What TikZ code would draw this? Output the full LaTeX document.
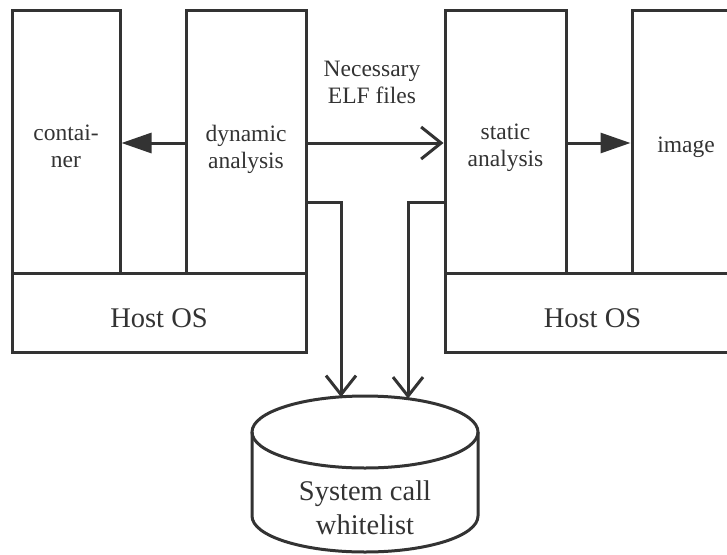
\documentclass[tikz,border=0pt]{standalone}
\usepackage{fontspec}
\setmainfont{Liberation Serif}
\newfontfamily\tnr{Liberation Serif}
\usetikzlibrary{arrows.meta}
\definecolor{ink}{HTML}{333333}
\begin{document}
\begin{tikzpicture}[x=1pt,y=-1pt,
  box/.style={draw=ink,line width=3pt,minimum height=263pt,inner sep=0pt},
  osbox/.style={draw=ink,line width=3pt,minimum height=79pt,inner sep=0pt},
  small/.style={text=ink,font=\tnr\fontsize{23.5}{27}\selectfont,align=center,inner sep=0pt},
  big/.style={text=ink,font=\tnr\fontsize{28.5}{34}\selectfont,align=center,inner sep=0pt},
  conn/.style={draw=ink,line width=3pt},
  fillhead/.style={conn,-{Triangle[length=30pt,width=20pt]}},
  openhead/.style={conn,-{Straight Barb[length=19pt,width=30pt]}}]
\useasboundingbox (0,0) rectangle (727,554);
\clip (0,0) rectangle (727,554);
% boxes
\node[box,minimum width=108pt] (cont) at (66,141.5) {};
\node[box,minimum width=120pt] (dyn) at (246,141.5) {};
\node[osbox,minimum width=294pt] (hostL) at (159,312.5) {};
\node[box,minimum width=121pt] (stat) at (505.5,141.5) {};
\node[box,minimum width=108pt] (img) at (686,141.5) {};
\node[osbox,minimum width=295pt] (hostR) at (592.5,312.5) {};
% labels
\node[small] (conttxt) at (66,146) {contai-\\ner};
\node[small] (dyntxt) at (246,149) {dynamic\\analysis};
\node[small] (stattxt) at (505.5,147.5) {static\\analysis};
\node[small] (imgtxt) at (686,147.5) {image};
\node[small] (elf) at (372,82) {Necessary\\ELF files};
\node[big] (hostLtxt) at (159,318.5) {Host OS};
\node[big] (hostRtxt) at (592.5,318.5) {Host OS};
% cylinder
\draw[ink,line width=3pt] (365,432) ellipse [x radius=113pt,y radius=36pt];
\draw[ink,line width=3pt] (252,432) -- (252,516)
  arc[start angle=180,end angle=360,x radius=113pt,y radius=36pt] -- (478,432);
\node[big] (db) at (365,508) {System call\\whitelist};
\coordinate (dbL) at (341,397);
\coordinate (dbR) at (408,398.5);
\coordinate (ay) at (0,143);
\coordinate (by) at (0,202);
% connectors
\draw[fillhead] (dyn.west |- ay) -- (cont.east |- ay);
\draw[fillhead] (stat.east |- ay) -- (img.west |- ay);
\draw[conn,-{Straight Barb[length=20pt,width=32pt]}] (dyn.east |- ay) -- (stat.west |- ay);
\draw[openhead] (dyn.east |- by) -| (dbL);
\draw[openhead] (stat.west |- by) -| (dbR);
\end{tikzpicture}
\end{document}
